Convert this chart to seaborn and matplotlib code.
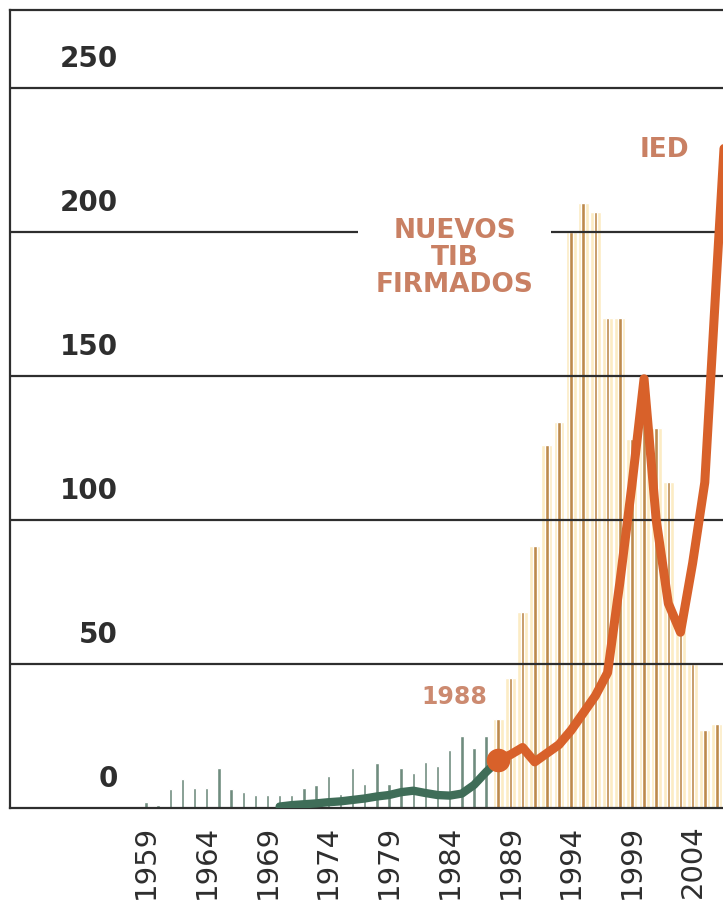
import matplotlib
matplotlib.use("Agg")
import matplotlib.pyplot as plt
import matplotlib.transforms as mtransforms
import numpy as np
import pandas as pd
import seaborn as sb

# new treaties signed per year (bars)
years = list(range(1959, 2007))
tib_signed = [2, 1, 6.5, 10, 7, 7, 14, 6.5, 5.5, 4.5,
              4.5, 4.5, 4.5, 7, 8, 11, 5, 14, 8.5, 15.5,
              8.5, 14, 12, 16, 14.5, 20, 25, 21, 25, 31,
              45, 68, 91, 126, 134, 200, 210, 207, 170, 170,
              128, 140, 132, 113, 62, 50, 27, 29]

# FDI line, green part before 1988 and orange part after
ied_years_old = list(range(1970, 1989))
ied_old = [0.5, 1, 1.3, 1.6, 2, 2.3, 2.8, 3.3, 4, 4.5,
           5.5, 6, 5.2, 4.5, 4.3, 5, 8, 12.5, 16.5]
ied_years_new = list(range(1988, 2008))
ied_new = [16.5, 18.5, 21, 16, 19, 22, 27, 33, 39, 47,
           78, 112, 149, 100, 71, 61, 85, 113, 187, 259]

ytick_vals = [0, 50, 100, 150, 200, 250]
xtick_years = list(range(1959, 2005, 5))

green_bar = '#6f8c7e'
orange_bar = '#bd8a4c'
cream = '#fcecc4'
green_line = '#3f6d58'
orange_line = '#d8612a'
label_col = '#c98063'
dark = '#2e2e2e'

df = pd.DataFrame({'year': years, 'tib': tib_signed})
df['period'] = np.where(df['year'] < 1988, 'old', 'new')
new = df[df['period'] == 'new']
old = df[df['period'] == 'old']

sb.set_style('white')
plt.rcParams['font.family'] = ['DejaVu Sans']

fig = plt.figure(figsize=(7.23, 9.21), dpi=100)
ax = fig.add_axes([10 / 723, 1 - 808 / 921, 713 / 723, 798 / 921])

# pale band behind the orange bars, then the thin bars themselves
ax.bar(new['year'], new['tib'], width=0.9, color=cream, zorder=0.5)
ax.bar(old['year'], old['tib'], width=0.28, color=green_bar, zorder=1)
ax.bar(new['year'], new['tib'], width=0.3, color=orange_bar, zorder=1)

sb.lineplot(x=ied_years_old, y=ied_old, color=green_line, lw=6, ax=ax,
            zorder=4, solid_capstyle='round', solid_joinstyle='round')
sb.lineplot(x=ied_years_new, y=ied_new, color=orange_line, lw=6.5, ax=ax,
            zorder=4, solid_capstyle='round', solid_joinstyle='round')
ax.scatter([1988], [16.5], s=17 ** 2, color=orange_line, zorder=6, linewidths=0)

ax.set_xlim(1947.8, 2006.5)
ax.set_ylim(0, 277)

ax.set_xticks(xtick_years)
ax.set_xticklabels([str(y) for y in xtick_years], rotation=90)
ax.tick_params(axis='x', length=0, pad=12, labelsize=21, labelcolor=dark)
ax.set_yticks(ytick_vals[1:])
ax.set_yticklabels([])
ax.tick_params(axis='y', length=0)
ax.set_xlabel('')
ax.set_ylabel('')

ax.set_axisbelow(False)
ax.grid(axis='y', color=dark, lw=1.6, zorder=3)
ax.grid(axis='x', visible=False)

for side in ['left', 'top', 'bottom']:
    ax.spines[side].set_color(dark)
    ax.spines[side].set_linewidth(1.6)
ax.spines['right'].set_visible(False)

trans = mtransforms.blended_transform_factory(ax.transAxes, ax.transData)
for v in ytick_vals:
    ax.text(0.1515, v + 10, str(v), transform=trans, ha='right', va='center',
            fontsize=20, weight='bold', color=dark)

ax.text(1984.4, 191, 'NUEVOS\nTIB\nFIRMADOS', ha='center', va='center',
        multialignment='center', fontsize=19, weight='bold', color=label_col,
        linespacing=1.05, zorder=5,
        bbox=dict(facecolor='white', edgecolor='none', pad=13))
ax.text(2001.7, 228.5, 'IED', ha='center', va='center', fontsize=19,
        weight='bold', color=label_col, zorder=5)
ax.text(1984.4, 38.5, '1988', ha='center', va='center', fontsize=17,
        weight='bold', color='#cc8a70', zorder=5)

plt.savefig('out.png', dpi=100)
